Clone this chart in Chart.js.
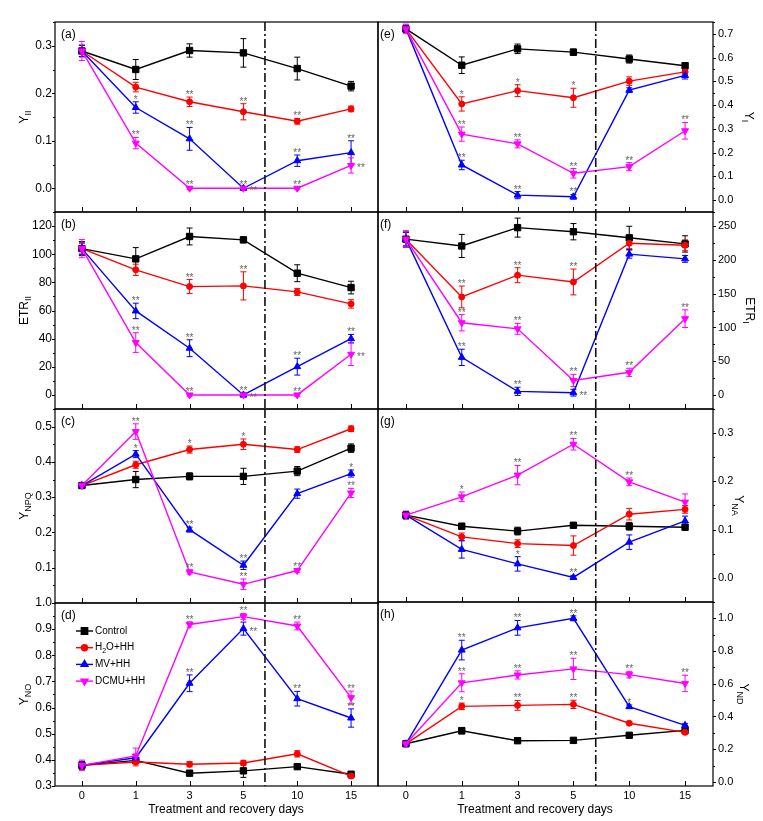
<!DOCTYPE html>
<html>
<head>
<meta charset="utf-8">
<script src="https://cdn.jsdelivr.net/npm/chart.js@4.4.1/dist/chart.umd.min.js"></script>
<style>
  html, body { margin: 0; padding: 0; background: #fff; }
  #wrap { position: relative; width: 763px; height: 821px; overflow: hidden; background: #fff; }
  #wrap canvas { position: absolute; }
</style>
</head>
<body>
<div id="wrap"></div>
<script>
const days = ['0', '1', '3', '5', '10', '15'];
const groups = ['Control', 'H₂O+HH', 'MV+HH', 'DCMU+HH'];

// rows: Control, H2O+HH, MV+HH, DCMU+HH
// (a) Y(II)
const yII = [
  [0.289, 0.250, 0.290, 0.285, 0.252, 0.215],
  [0.289, 0.213, 0.182, 0.161, 0.141, 0.167],
  [0.289, 0.170, 0.104, 0.000, 0.058, 0.075],
  [0.289, 0.095, 0.000, 0.000, 0.000, 0.048]
];
const yIIErr = [
  [0.012, 0.021, 0.014, 0.030, 0.024, 0.010],
  [0.012, 0.010, 0.010, 0.017, 0.006, 0.006],
  [0.012, 0.012, 0.024, 0.003, 0.012, 0.025],
  [0.020, 0.012, 0.003, 0.003, 0.003, 0.016]
];
const yIISig = [
  ['', '', '', '', '', ''],
  ['', '', '**', '**', '**', ''],
  ['', '*', '**', '**', '**', '**'],
  ['', '**', '**', '**', '**', '**']
];

// (b) ETR(II)
const etrII = [
  [104, 96.7, 112.6, 110.2, 86.5, 76.3],
  [104, 88.9, 77.0, 77.5, 73.2, 64.7],
  [104, 59.7, 33.2, 0, 20.1, 40.0],
  [104, 37.2, 0, 0, 0, 28.9]
];
const etrIIErr = [
  [5, 8, 6, 2, 6, 4.5],
  [4, 4, 5, 10, 2.5, 3],
  [4, 5.5, 6, 1.5, 6, 3],
  [6.5, 7, 1, 1, 1, 8]
];
const etrIISig = [
  ['', '', '', '', '', ''],
  ['', '', '**', '**', '', ''],
  ['', '**', '**', '**', '**', '**'],
  ['', '**', '**', '**', '**', '**']
];

// (c) Y(NPQ)
const yNPQ = [
  [0.333, 0.350, 0.359, 0.359, 0.374, 0.439],
  [0.333, 0.392, 0.435, 0.450, 0.435, 0.494],
  [0.333, 0.422, 0.208, 0.107, 0.310, 0.367],
  [0.333, 0.486, 0.088, 0.053, 0.092, 0.312]
];
const yNPQErr = [
  [0.008, 0.023, 0.010, 0.023, 0.013, 0.012],
  [0.006, 0.010, 0.010, 0.015, 0.008, 0.008],
  [0.006, 0.010, 0.007, 0.012, 0.013, 0.010],
  [0.008, 0.022, 0.006, 0.015, 0.005, 0.013]
];
const yNPQSig = [
  ['', '', '', '', '', ''],
  ['', '', '*', '*', '', ''],
  ['', '*', '**', '**', '', '*'],
  ['', '**', '**', '**', '**', '**']
];

// (d) Y(NO)
const yNO = [
  [0.379, 0.398, 0.349, 0.358, 0.374, 0.345],
  [0.379, 0.392, 0.383, 0.388, 0.423, 0.338],
  [0.379, 0.408, 0.693, 0.902, 0.634, 0.560],
  [0.379, 0.415, 0.918, 0.948, 0.912, 0.638]
];
const yNOErr = [
  [0.015, 0.010, 0.008, 0.025, 0.010, 0.008],
  [0.012, 0.015, 0.010, 0.010, 0.012, 0.008],
  [0.012, 0.010, 0.032, 0.025, 0.028, 0.035],
  [0.020, 0.030, 0.010, 0.012, 0.015, 0.025]
];
const yNOSig = [
  ['', '', '', '', '', ''],
  ['', '', '', '', '', ''],
  ['', '', '**', '**', '**', '**'],
  ['', '', '**', '**', '**', '**']
];

// (e) Y(I)
const yI = [
  [0.721, 0.568, 0.637, 0.623, 0.594, 0.566],
  [0.721, 0.405, 0.461, 0.431, 0.501, 0.540],
  [0.721, 0.148, 0.021, 0.014, 0.463, 0.525],
  [0.721, 0.278, 0.237, 0.113, 0.141, 0.292]
];
const yIErr = [
  [0.015, 0.035, 0.020, 0.013, 0.017, 0.013],
  [0.015, 0.030, 0.025, 0.040, 0.018, 0.010],
  [0.015, 0.020, 0.015, 0.010, 0.010, 0.015],
  [0.020, 0.030, 0.017, 0.020, 0.017, 0.035]
];
const yISig = [
  ['', '', '', '', '', ''],
  ['', '*', '*', '*', '', ''],
  ['', '**', '**', '**', '', ''],
  ['', '**', '**', '**', '**', '**']
];

// (f) ETR(I)
const etrI = [
  [230, 220, 247, 241, 232, 223],
  [230, 145, 177, 167, 224, 221],
  [230, 56, 6, 4, 208, 201],
  [230, 107, 98, 22, 34, 113]
];
const etrIErr = [
  [12, 17, 14, 12, 17, 12],
  [10, 16, 11, 19, 8, 8],
  [10, 12, 6, 5, 6, 5],
  [12, 12, 8, 9, 6, 13]
];
const etrISig = [
  ['', '', '', '', '', ''],
  ['', '**', '**', '**', '', ''],
  ['', '**', '**', '**', '', ''],
  ['', '**', '**', '**', '**', '**']
];

// (g) Y(NA)
const yNA = [
  [0.130, 0.107, 0.097, 0.109, 0.107, 0.105],
  [0.130, 0.085, 0.071, 0.067, 0.132, 0.142],
  [0.130, 0.059, 0.029, 0.001, 0.074, 0.118],
  [0.130, 0.168, 0.213, 0.277, 0.199, 0.157]
];
const yNAErr = [
  [0.008, 0.006, 0.008, 0.005, 0.008, 0.005],
  [0.006, 0.008, 0.008, 0.020, 0.012, 0.008],
  [0.006, 0.018, 0.015, 0.004, 0.015, 0.010],
  [0.008, 0.010, 0.020, 0.012, 0.008, 0.017]
];
const yNASig = [
  ['', '', '', '', '', ''],
  ['', '', '', '', '', ''],
  ['', '', '*', '**', '', ''],
  ['', '*', '**', '**', '**', '']
];

// (h) Y(ND)
const yND = [
  [0.233, 0.313, 0.252, 0.254, 0.285, 0.315],
  [0.233, 0.462, 0.468, 0.474, 0.359, 0.303],
  [0.233, 0.806, 0.942, 1.000, 0.460, 0.346],
  [0.233, 0.606, 0.654, 0.691, 0.656, 0.602]
];
const yNDErr = [
  [0.010, 0.020, 0.010, 0.015, 0.010, 0.010],
  [0.010, 0.020, 0.030, 0.025, 0.010, 0.010],
  [0.010, 0.060, 0.045, 0.015, 0.010, 0.010],
  [0.015, 0.055, 0.025, 0.065, 0.020, 0.050]
];
const yNDSig = [
  ['', '', '', '', '', ''],
  ['', '*', '**', '**', '', ''],
  ['', '**', '**', '**', '*', ''],
  ['', '**', '**', '**', '**', '**']
];

// significance marks drawn beside the point instead of above it (panel:series:day index)
const besideMarks = ['a:2:3', 'a:3:5', 'b:3:3', 'b:3:5', 'd:2:3', 'f:2:3'];

const ticksA = [0, 0.1, 0.2, 0.3];
const ticksB = [0, 20, 40, 60, 80, 100, 120];
const ticksC = [0.1, 0.2, 0.3, 0.4, 0.5];
const ticksD = [0.3, 0.4, 0.5, 0.6, 0.7, 0.8, 0.9, 1.0];
const ticksE = [0, 0.1, 0.2, 0.3, 0.4, 0.5, 0.6, 0.7];
const ticksF = [0, 50, 100, 150, 200, 250];
const ticksG = [0, 0.1, 0.2, 0.3];
const ticksH = [0, 0.2, 0.4, 0.6, 0.8, 1.0];

const colors = ['#000000', '#ff0000', '#0000ff', '#ff00ff'];
const shapes = ['rect', 'circle', 'triangle', 'triangle'];
const turns = [0, 0, 0, 180];
const radii = [4.5, 3, 4, 4];
const FONT = '"Liberation Sans", Arial, Helvetica, sans-serif';

Chart.defaults.font.family = FONT;
Chart.defaults.color = '#000';

const panels = [
  { id: 'a', col: 0, top: 22, bottom: 212, vals: yII, errs: yIIErr, sig: yIISig, min: -0.05, max: 0.35, ticks: ticksA, minor: 0.05, dec: 1, title: ['Y', 'II'], titleX: 25 },
  { id: 'b', col: 0, top: 212, bottom: 409, vals: etrII, errs: etrIIErr, sig: etrIISig, min: -10, max: 130, ticks: ticksB, minor: 10, dec: 0, title: ['ETR', 'II'], titleX: 25 },
  { id: 'c', col: 0, top: 409, bottom: 603, vals: yNPQ, errs: yNPQErr, sig: yNPQSig, min: 0, max: 0.55, ticks: ticksC, minor: 0.05, dec: 1, title: ['Y', 'NPQ'], titleX: 25 },
  { id: 'd', col: 0, top: 603, bottom: 786, vals: yNO, errs: yNOErr, sig: yNOSig, min: 0.3, max: 1.0, ticks: ticksD, minor: 0.05, dec: 1, title: ['Y', 'NO'], titleX: 25, legend: true, xTitle: 226 },
  { id: 'e', col: 1, top: 22, bottom: 212, vals: yI, errs: yIErr, sig: yISig, min: -0.05, max: 0.75, ticks: ticksE, minor: 0.05, dec: 1, title: ['Y', 'I'], titleX: 748 },
  { id: 'f', col: 1, top: 212, bottom: 409, vals: etrI, errs: etrIErr, sig: etrISig, min: -20, max: 270, ticks: ticksF, minor: 25, dec: 0, title: ['ETR', 'I'], titleX: 749 },
  { id: 'g', col: 1, top: 409, bottom: 602, vals: yNA, errs: yNAErr, sig: yNASig, min: -0.05, max: 0.35, ticks: ticksG, minor: 0.05, dec: 1, title: ['Y', 'NA'], titleX: 738 },
  { id: 'h', col: 1, top: 602, bottom: 786, vals: yND, errs: yNDErr, sig: yNDSig, min: -0.025, max: 1.1, ticks: ticksH, minor: 0.1, dec: 1, title: ['Y', 'ND'], titleX: 743, xTitle: 535 }
];

// text with a subscript part, optionally rotated
const drawSub = (ctx, main, sub, x, y, rot, size) => {
  const mainFont = size + 'px ' + FONT;
  const subFont = Math.round(size * 0.72) + 'px ' + FONT;
  ctx.save();
  ctx.translate(x, y);
  ctx.rotate(rot);
  ctx.font = mainFont;
  const w1 = ctx.measureText(main).width;
  ctx.font = subFont;
  const w2 = ctx.measureText(sub).width;
  const x0 = -(w1 + w2) / 2;
  ctx.fillStyle = '#000';
  ctx.textAlign = 'left';
  ctx.textBaseline = 'middle';
  ctx.font = mainFont;
  ctx.fillText(main, x0, 0);
  ctx.font = subFont;
  ctx.fillText(sub, x0 + w1, size * 0.32);
  ctx.restore();
};

// legend label, with ₂ drawn as a lowered small 2
const drawLabel = (ctx, text, x, y, size) => {
  let cx = x;
  for (const ch of text) {
    const isSub = ch === '₂';
    ctx.font = (isSub ? Math.round(size * 0.7) : size) + 'px ' + FONT;
    const c = isSub ? '2' : ch;
    ctx.fillText(c, cx, isSub ? y + 3 : y);
    cx += ctx.measureText(c).width;
  }
};

const panelPlugin = (p) => ({
  id: 'panel_' + p.id,
  beforeDatasetsDraw(chart) {
    const { ctx, scales: { x, y } } = chart;
    ctx.save();
    ctx.lineWidth = 1;
    p.vals.forEach((vals, s) => {
      ctx.strokeStyle = colors[s];
      vals.forEach((v, i) => {
        const e = p.errs[s][i];
        const px = x.getPixelForValue(i);
        const y1 = y.getPixelForValue(v + e);
        const y2 = y.getPixelForValue(v - e);
        ctx.beginPath();
        ctx.moveTo(px, y1); ctx.lineTo(px, y2);
        ctx.moveTo(px - 3, y1); ctx.lineTo(px + 3, y1);
        ctx.moveTo(px - 3, y2); ctx.lineTo(px + 3, y2);
        ctx.stroke();
      });
    });
    ctx.restore();
  },
  afterDraw(chart) {
    const { ctx, chartArea: a, scales: { x, y } } = chart;
    const left = p.col === 0;
    ctx.save();

    // frame
    ctx.strokeStyle = '#000';
    ctx.lineWidth = 1.2;
    ctx.strokeRect(a.left, a.top, a.right - a.left, a.bottom - a.top);

    // x tick marks, pointing into the panel
    ctx.lineWidth = 1;
    ctx.beginPath();
    days.forEach((d, i) => {
      const px = Math.round(x.getPixelForValue(i)) + 0.5;
      ctx.moveTo(px, a.bottom);
      ctx.lineTo(px, a.bottom - 5);
    });
    // y tick marks, major and minor
    const ax = left ? a.left : a.right;
    const dir = left ? -1 : 1;
    p.ticks.forEach((v) => {
      const py = Math.round(y.getPixelForValue(v)) + 0.5;
      ctx.moveTo(ax, py);
      ctx.lineTo(ax + dir * 3, py);
    });
    for (let k = Math.ceil(p.min / p.minor - 1e-9); k * p.minor <= p.max + 1e-9; k++) {
      const v = k * p.minor;
      if (p.ticks.some((t) => Math.abs(t - v) < p.minor / 10)) continue;
      const py = Math.round(y.getPixelForValue(v)) + 0.5;
      ctx.moveTo(ax, py);
      ctx.lineTo(ax + dir * 2, py);
    }
    ctx.stroke();

    // treatment / recovery divider
    const dx = x.getPixelForValue(3.4);
    ctx.strokeStyle = '#111';
    ctx.lineWidth = 1.6;
    ctx.setLineDash([9, 3, 2, 3]);
    ctx.beginPath();
    ctx.moveTo(dx, a.top);
    ctx.lineTo(dx, a.bottom);
    ctx.stroke();
    ctx.setLineDash([]);

    // panel letter
    ctx.fillStyle = '#000';
    ctx.font = '12px ' + FONT;
    ctx.textAlign = 'left';
    ctx.textBaseline = 'middle';
    ctx.fillText('(' + p.id + ')', a.left + (left ? 6 : 2), a.top + 13);

    // axis titles
    const midY = (a.top + a.bottom) / 2;
    drawSub(ctx, p.title[0], p.title[1], p.titleX - p.cx, midY, left ? -Math.PI / 2 : Math.PI / 2, 12);
    if (p.xTitle) {
      ctx.fillStyle = '#000';
      ctx.font = '12px ' + FONT;
      ctx.textAlign = 'center';
      ctx.textBaseline = 'middle';
      ctx.fillText('Treatment and recovery days', p.xTitle - p.cx, 810 - p.cy);
    }

    // significance marks
    ctx.fillStyle = '#666';
    ctx.font = '10px ' + FONT;
    p.sig.forEach((row, s) => {
      row.forEach((t, i) => {
        if (!t) return;
        const px = x.getPixelForValue(i);
        if (besideMarks.includes(p.id + ':' + s + ':' + i)) {
          ctx.textAlign = 'left';
          ctx.textBaseline = 'alphabetic';
          ctx.fillText(t, px + 6, y.getPixelForValue(p.vals[s][i]) + 6);
        } else {
          ctx.textAlign = 'center';
          ctx.textBaseline = 'alphabetic';
          ctx.fillText(t, px, y.getPixelForValue(p.vals[s][i] + p.errs[s][i]) + 1);
        }
      });
    });

    // legend
    if (p.legend) {
      groups.forEach((g, s) => {
        const ly = a.top + 28 + s * 16.7;
        const lx = a.left + 21;
        ctx.strokeStyle = colors[s];
        ctx.fillStyle = colors[s];
        ctx.lineWidth = 1.4;
        ctx.beginPath();
        ctx.moveTo(lx, ly);
        ctx.lineTo(lx + 17, ly);
        ctx.stroke();
        Chart.helpers.drawPoint(ctx, { pointStyle: shapes[s], rotation: turns[s], radius: radii[s], borderWidth: 1 }, lx + 8.5, ly);
        ctx.fillStyle = '#000';
        ctx.textAlign = 'left';
        ctx.textBaseline = 'middle';
        drawLabel(ctx, g, lx + 19, ly, 10);
      });
    }
    ctx.restore();
  }
});

const wrap = document.getElementById('wrap');
const PAD = 12;

panels.forEach((p) => {
  const left = p.col === 0;
  const isBottom = !!p.xTitle;
  p.cx = left ? 0 : 376;
  p.cy = p.top - PAD;
  const cw = left ? 380 : 387;
  const ch = (isBottom ? 821 : p.bottom + PAD) - p.cy;

  const canvas = document.createElement('canvas');
  canvas.width = cw;
  canvas.height = ch;
  canvas.style.left = p.cx + 'px';
  canvas.style.top = p.cy + 'px';
  canvas.style.width = cw + 'px';
  canvas.style.height = ch + 'px';
  wrap.appendChild(canvas);

  new Chart(canvas, {
    type: 'line',
    data: {
      labels: days,
      datasets: p.vals.map((v, s) => ({
        label: groups[s],
        data: v,
        order: 3 - s,
        borderColor: colors[s],
        backgroundColor: colors[s],
        pointBackgroundColor: colors[s],
        pointBorderColor: colors[s],
        pointStyle: shapes[s],
        pointRotation: turns[s],
        pointRadius: radii[s],
        pointBorderWidth: 1,
        borderWidth: 1.4,
        tension: 0,
        fill: false,
        clip: 8
      }))
    },
    options: {
      responsive: false,
      maintainAspectRatio: false,
      animation: false,
      devicePixelRatio: 1,
      layout: {
        autoPadding: false,
        padding: { left: left ? 0 : 2, right: left ? 2 : 0, top: PAD, bottom: isBottom ? 0 : PAD }
      },
      plugins: { legend: { display: false }, tooltip: { enabled: false } },
      scales: {
        x: {
          type: 'category',
          display: isBottom,
          offset: true,
          grid: { display: false, drawTicks: false },
          border: { display: false },
          ticks: { padding: 3, color: '#000', font: { size: 11 }, maxRotation: 0 },
          afterFit: (s) => {
            s.height = isBottom ? 35 : 0;
            s.paddingLeft = 0;
            s.paddingRight = 0;
          }
        },
        y: {
          position: left ? 'left' : 'right',
          min: p.min,
          max: p.max,
          grid: { display: false, drawTicks: false },
          border: { display: false },
          ticks: { padding: left ? 3 : 5, color: '#000', font: { size: left ? 12 : 11 }, callback: (v) => Number(v).toFixed(p.dec) },
          afterBuildTicks: (s) => { s.ticks = p.ticks.map((v) => ({ value: v })); },
          afterFit: (s) => { s.width = left ? 55 : 50; }
        }
      }
    },
    plugins: [panelPlugin(p)]
  });
});
</script>
</body>
</html>
